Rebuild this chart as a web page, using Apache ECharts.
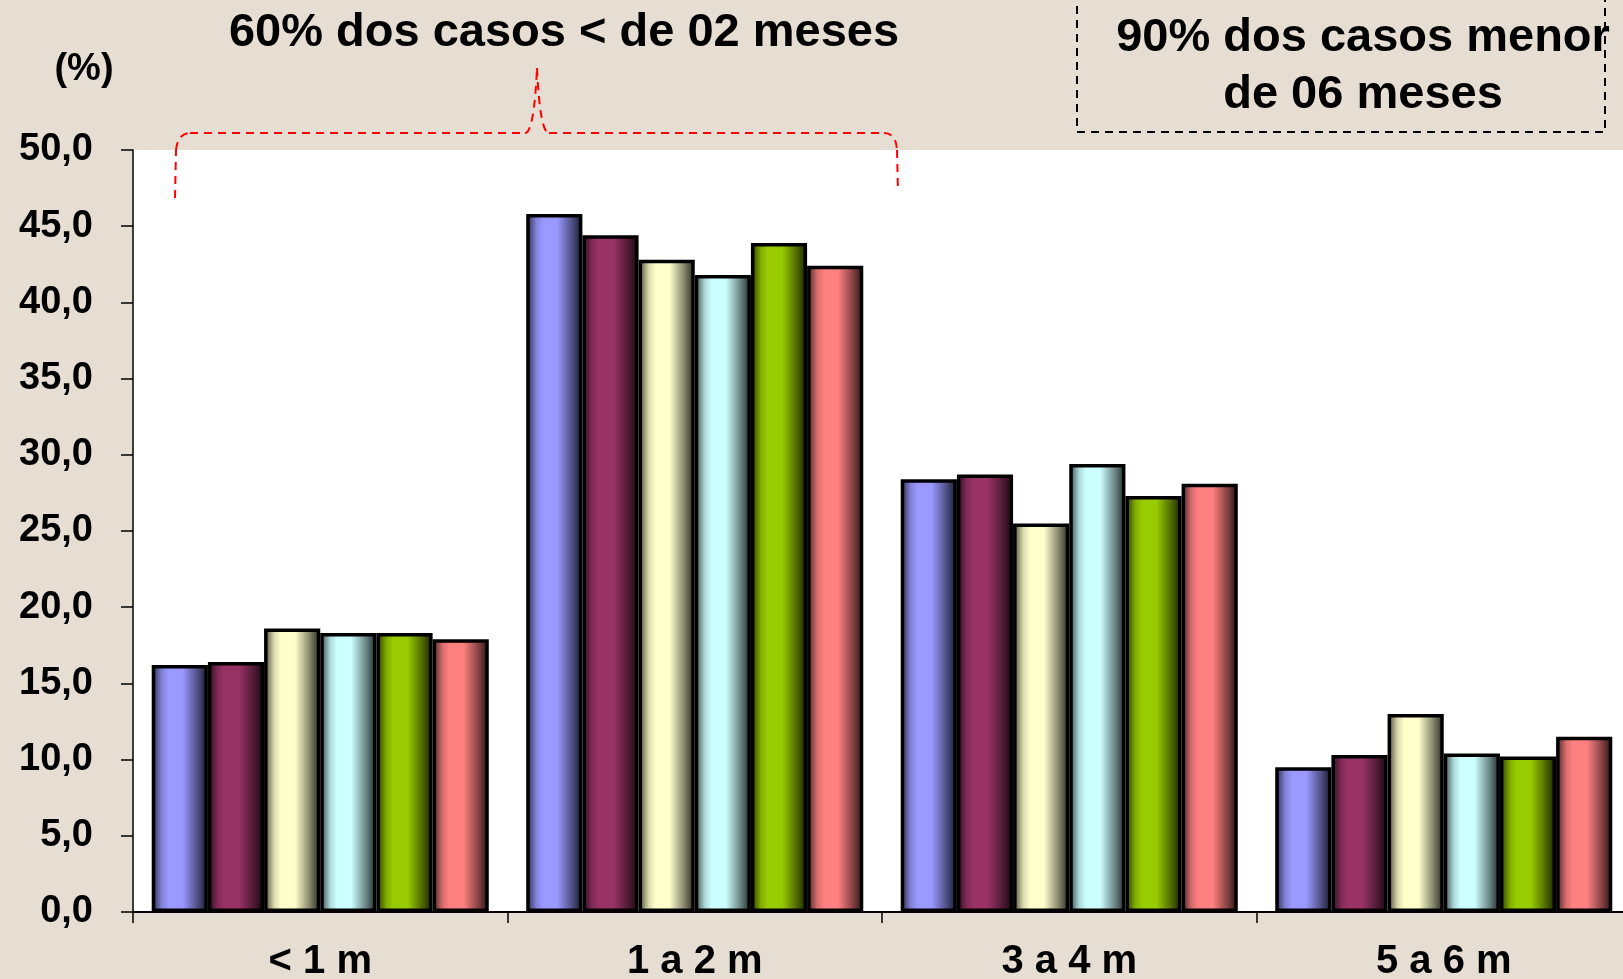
<!DOCTYPE html>
<html>
<head>
<meta charset="utf-8">
<title>Casos por faixa de idade</title>
<script src="https://cdn.jsdelivr.net/npm/echarts@6/dist/echarts.min.js"></script>
<style>
  html, body { margin: 0; padding: 0; background: #e6ded2; }
  #chart { width: 1623px; height: 979px; }
</style>
</head>
<body>
<div id="chart"></div>
<script>
// faixas de idade (eixo x)
const categories = ['< 1 m', '1 a 2 m', '3 a 4 m', '5 a 6 m'];

// percentuais, uma lista por serie
const serie1 = [16.2, 45.8, 28.4, 9.5];
const serie2 = [16.4, 44.4, 28.7, 10.3];
const serie3 = [18.6, 42.8, 25.5, 13.0];
const serie4 = [18.3, 41.8, 29.4, 10.4];
const serie5 = [18.3, 43.9, 27.3, 10.2];
const serie6 = [17.9, 42.4, 28.1, 11.5];

const seriesNames = ['Série 1', 'Série 2', 'Série 3', 'Série 4', 'Série 5', 'Série 6'];
const seriesColors = ['#9999ff', '#993366', '#ffffcc', '#ccffff', '#99cc00', '#ff8080'];
const yTicks = [0, 50, 5];

const chart = echarts.init(document.getElementById('chart'));

// escurece uma cor hex por um fator
const shade = (hex, f) => {
  const n = parseInt(hex.slice(1), 16);
  const r = Math.round(((n >> 16) & 255) * f);
  const g = Math.round(((n >> 8) & 255) * f);
  const b = Math.round((n & 255) * f);
  return `rgb(${r},${g},${b})`;
};

// efeito de cilindro como no excel
const cylinder = (c) => ({
  type: 'linear', x: 0, y: 0, x2: 1, y2: 0,
  colorStops: [
    { offset: 0, color: shade(c, 0.25) },
    { offset: 0.18, color: shade(c, 0.85) },
    { offset: 0.3, color: c },
    { offset: 0.55, color: c },
    { offset: 0.8, color: shade(c, 0.55) },
    { offset: 1, color: shade(c, 0.15) }
  ]
});

const data = [serie1, serie2, serie3, serie4, serie5, serie6];

const braceStyle = { fill: 'none', stroke: '#ff0000', lineWidth: 2, lineDash: [8, 6] };
const seg = (x1, y1, x2, y2) => ({ type: 'line', shape: { x1, y1, x2, y2 }, style: braceStyle });
const curve = (x1, y1, cpx1, cpy1, x2, y2) => ({
  type: 'bezierCurve', shape: { x1, y1, cpx1, cpy1, x2, y2 }, style: braceStyle
});

const option = {
  backgroundColor: '#e6ded2',
  animation: false,
  textStyle: { fontFamily: 'Liberation Sans, Arial, sans-serif' },
  grid: {
    left: 133,
    right: -8,
    top: 150,
    bottom: 67,
    containLabel: false,
    outerBoundsMode: 'none',
    show: true,
    backgroundColor: '#ffffff',
    borderWidth: 0
  },
  xAxis: {
    type: 'category',
    data: categories,
    axisLine: { lineStyle: { color: '#000', width: 2 } },
    axisTick: { show: true, length: 11, lineStyle: { color: '#000', width: 1.5 } },
    axisLabel: {
      color: '#000',
      fontSize: 40,
      fontWeight: 'bold',
      margin: 30
    }
  },
  yAxis: {
    type: 'value',
    min: yTicks[0],
    max: yTicks[1],
    interval: yTicks[2],
    axisLine: { show: true, lineStyle: { color: '#000', width: 1.5 } },
    axisTick: { show: true, length: 12, lineStyle: { color: '#000', width: 1.5 } },
    splitLine: { show: false },
    axisLabel: {
      color: '#000',
      fontSize: 38,
      fontWeight: 'bold',
      margin: 40,
      formatter: (v) => v.toFixed(1).replace('.', ',')
    }
  },
  series: data.map((vals, i) => ({
    name: seriesNames[i],
    type: 'bar',
    data: vals,
    barGap: '0%',
    barCategoryGap: '10%',
    itemStyle: {
      color: cylinder(seriesColors[i]),
      borderColor: '#000',
      borderWidth: 3.5
    }
  })),
  graphic: [
    {
      type: 'text',
      x: 84, y: 70,
      style: {
        text: '(%)', font: 'bold 38px Liberation Sans', fill: '#000',
        align: 'center', verticalAlign: 'middle'
      }
    },
    {
      type: 'text',
      x: 564, y: 33,
      style: {
        text: '60% dos casos < de 02 meses',
        font: 'bold 47px Liberation Sans',
        fill: '#000',
        align: 'center',
        verticalAlign: 'middle'
      }
    },
    {
      type: 'rect',
      shape: { x: 1077, y: -10, width: 528, height: 142 },
      style: { fill: 'none', stroke: '#000', lineWidth: 2, lineDash: [8, 6] }
    },
    {
      type: 'text',
      x: 1363, y: 67,
      style: {
        text: '90% dos casos menor\nde 06 meses',
        font: 'bold 47px Liberation Sans',
        lineHeight: 57,
        fill: '#000',
        align: 'center',
        verticalAlign: 'middle'
      }
    },
    // chave vermelha tracejada
    seg(175, 198, 176, 150),
    curve(176, 150, 178, 133, 190, 133),
    seg(190, 133, 525, 133),
    curve(525, 133, 534, 133, 537, 68),
    curve(537, 68, 540, 133, 549, 133),
    seg(549, 133, 884, 133),
    curve(884, 133, 896, 133, 897, 150),
    seg(897, 150, 898, 192)
  ]
};

chart.setOption(option);
</script>
</body>
</html>
